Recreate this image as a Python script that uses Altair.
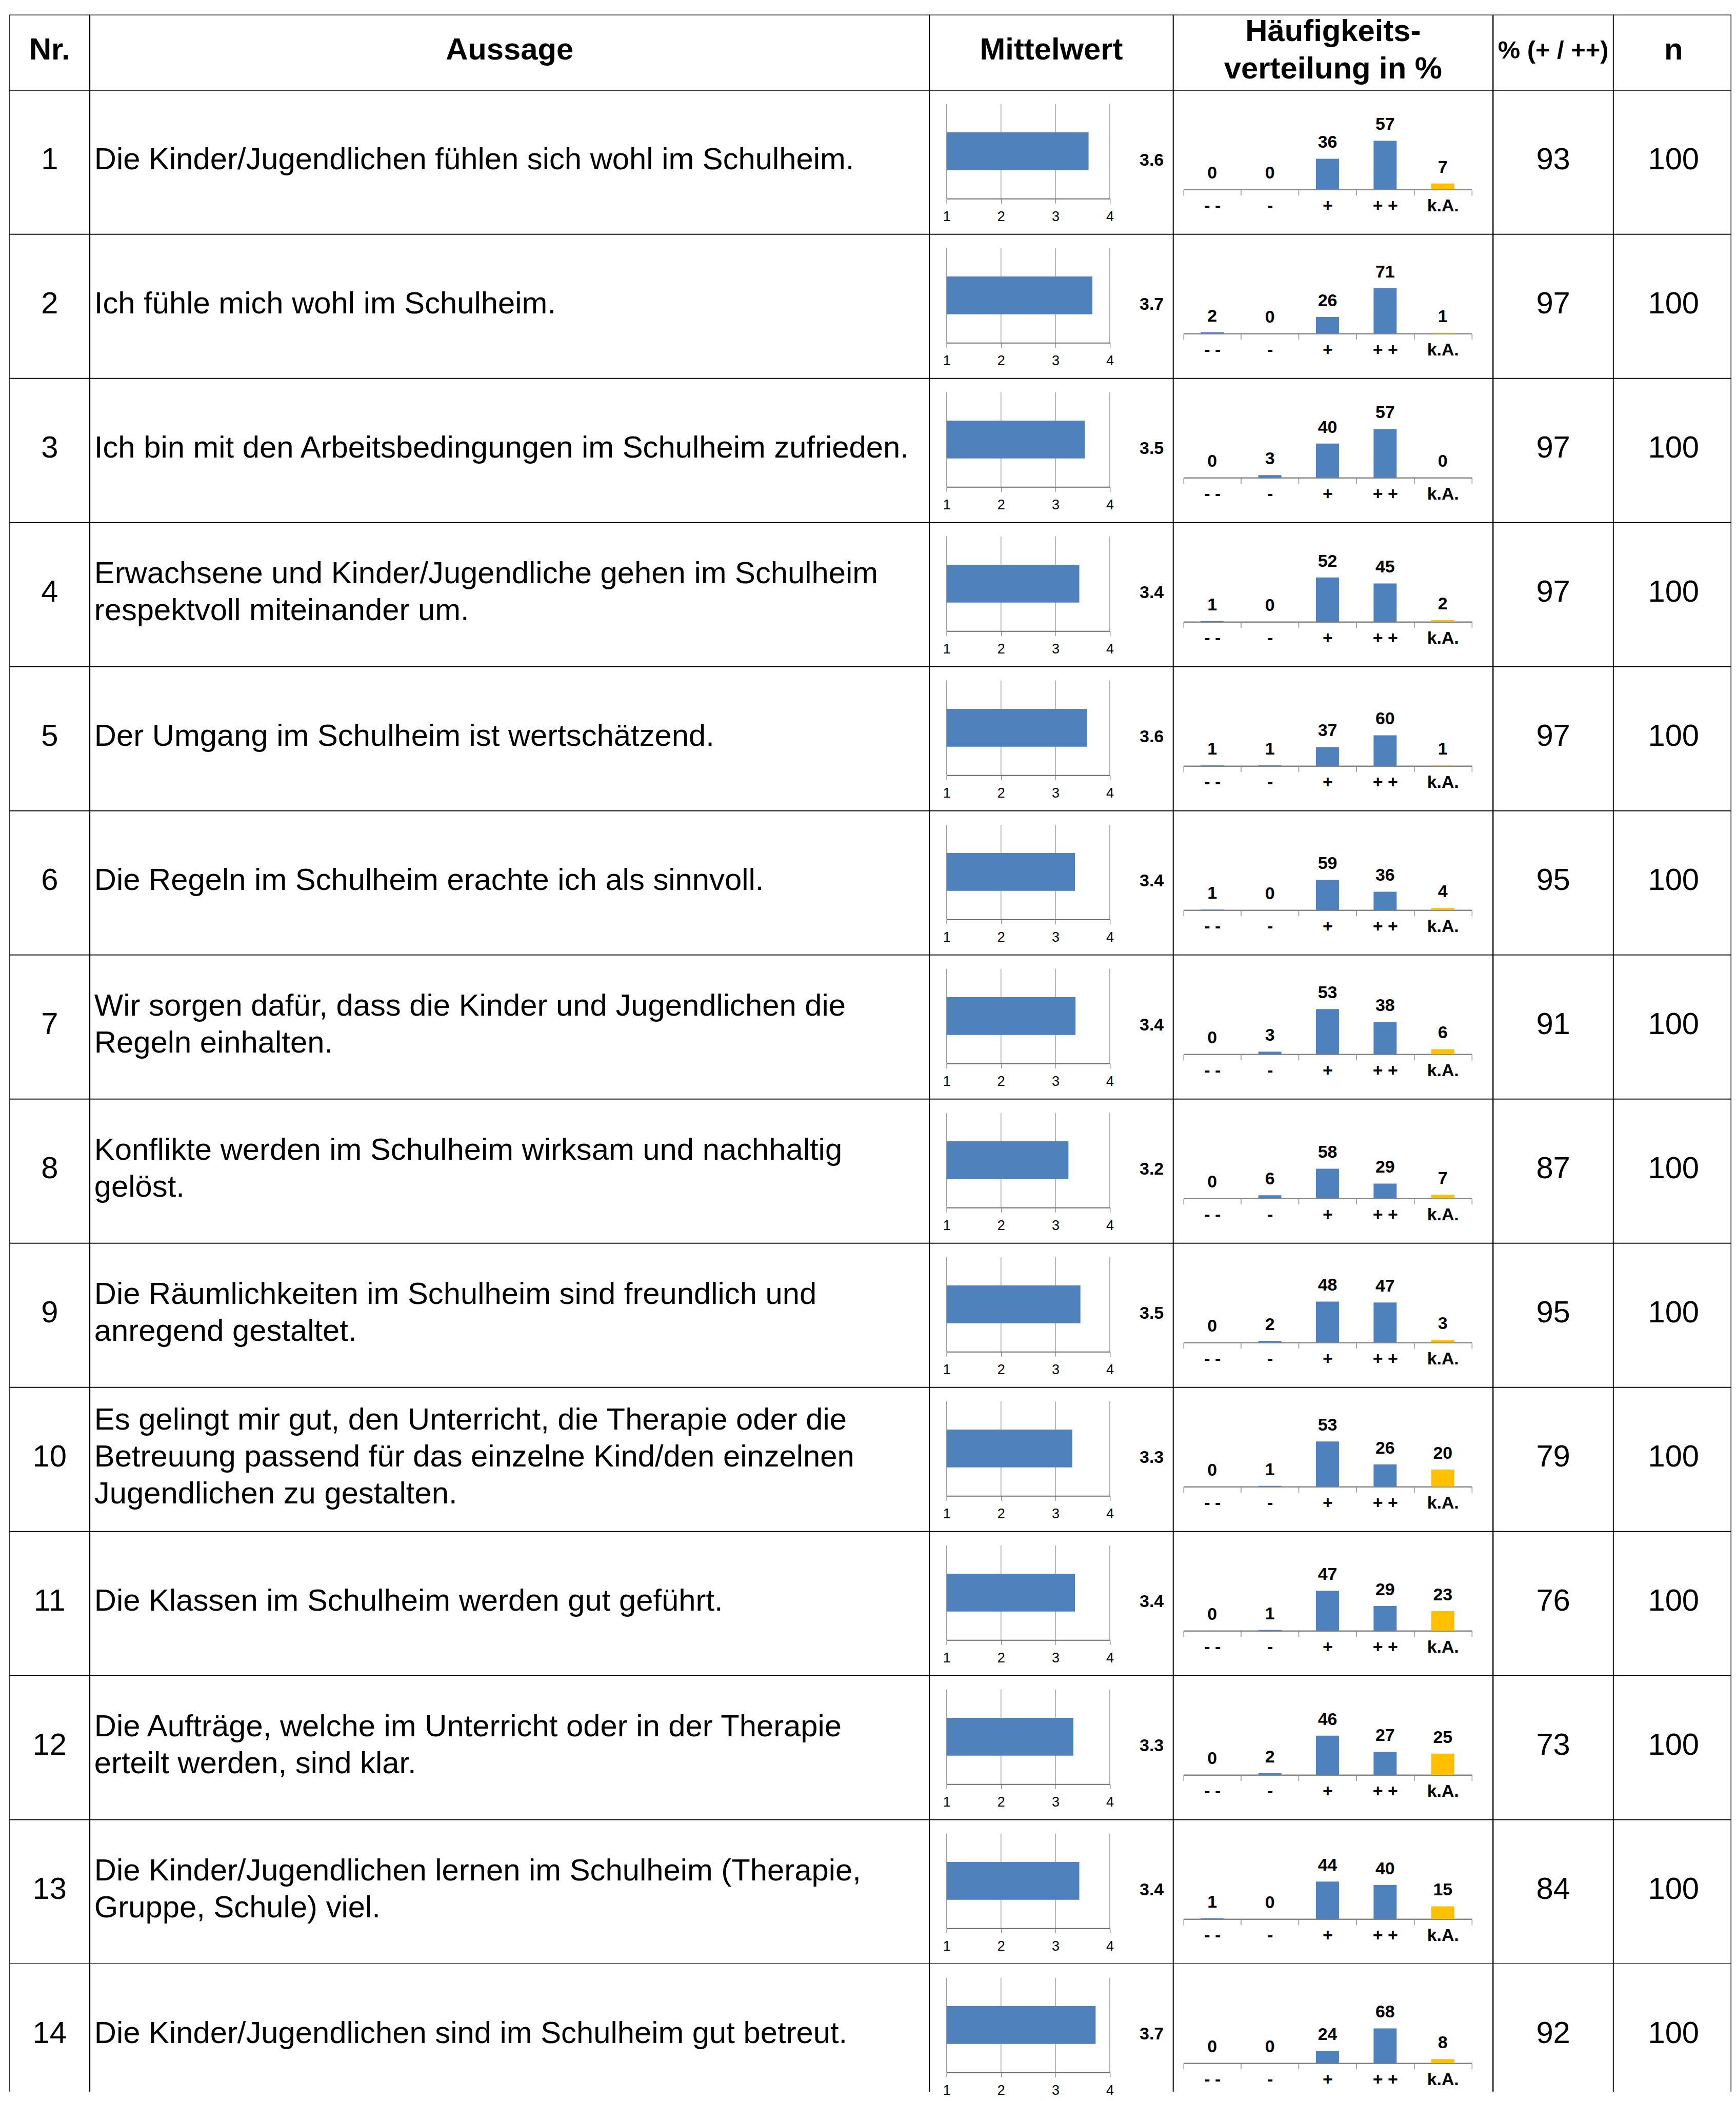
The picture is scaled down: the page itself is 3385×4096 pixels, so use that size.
import altair as alt
import pandas as pd

S = 0.939
FONT = "Liberation Sans"
BLUE = "#4F81BD"
YELLOW = "#FFC000"
GRAY = "#868686"

# ---------------- data ----------------
nrs = list(range(1, 15))
statements = [
    ["Die Kinder/Jugendlichen fühlen sich wohl im Schulheim."],
    ["Ich fühle mich wohl im Schulheim."],
    ["Ich bin mit den Arbeitsbedingungen im Schulheim zufrieden."],
    ["Erwachsene und Kinder/Jugendliche gehen im Schulheim", "respektvoll miteinander um."],
    ["Der Umgang im Schulheim ist wertschätzend."],
    ["Die Regeln im Schulheim erachte ich als sinnvoll."],
    ["Wir sorgen dafür, dass die Kinder und Jugendlichen die", "Regeln einhalten."],
    ["Konflikte werden im Schulheim wirksam und nachhaltig", "gelöst."],
    ["Die Räumlichkeiten im Schulheim sind freundlich und", "anregend gestaltet."],
    ["Es gelingt mir gut, den Unterricht, die Therapie oder die",
     "Betreuung passend für das einzelne Kind/den einzelnen",
     "Jugendlichen zu gestalten."],
    ["Die Klassen im Schulheim werden gut geführt."],
    ["Die Aufträge, welche im Unterricht oder in der Therapie", "erteilt werden, sind klar."],
    ["Die Kinder/Jugendlichen lernen im Schulheim (Therapie,", "Gruppe, Schule) viel."],
    ["Die Kinder/Jugendlichen sind im Schulheim gut betreut."],
]
means = [3.61, 3.68, 3.54, 3.44, 3.58, 3.36, 3.37, 3.24, 3.46, 3.31, 3.36, 3.33, 3.44, 3.74]
mean_ticks = [1, 2, 3, 4]

cats = ["- -", "-", "+", "+ +", "k.A."]
pct_mm = [0, 2, 0, 1, 1, 1, 0, 0, 0, 0, 0, 0, 1, 0]
pct_m = [0, 0, 3, 0, 1, 0, 3, 6, 2, 1, 1, 2, 0, 0]
pct_p = [36, 26, 40, 52, 37, 59, 53, 58, 48, 53, 47, 46, 44, 24]
pct_pp = [57, 71, 57, 45, 60, 36, 38, 29, 47, 26, 29, 27, 40, 68]
pct_ka = [7, 1, 0, 2, 1, 4, 6, 7, 3, 20, 23, 25, 15, 8]
axis_max = [60, 80, 60, 60, 100, 100, 60, 100, 60, 60, 60, 60, 60, 100]

share_pos = [93, 97, 97, 97, 97, 95, 91, 87, 95, 79, 76, 73, 84, 92]
n_vals = [100] * 14

headers = ["Nr.", "Aussage", "Mittelwert", ["Häufigkeits-", "verteilung in %"], "% (+ / ++)", "n"]

# ---------------- layout (output pixels) ----------------
W = [166.3 * S, 1749.2 * S, 507.5 * S, 665.8 * S, 250.0 * S, 245.2 * S]
H_HEAD = 156.5 * S
H_ROW = 300.0 * S
H_LAST = 250.0
TXT = 60
LINE = 76.5 * S


def text_layer(value, x, yc, align="center", bold=False, size=TXT, line_h=LINE):
    nlines = len(value) if isinstance(value, list) else 1
    y0 = yc - (nlines - 1) * line_h / 2
    df = pd.DataFrame({"t": [value]})
    return alt.Chart(df).mark_text(
        align=align, baseline="middle", font=FONT, fontSize=size, dy=-0.065 * size,
        fontWeight="bold" if bold else "normal", lineHeight=line_h, color="black"
    ).encode(x=alt.value(x), y=alt.value(y0), text="t:N")


def mean_layers(i, h):
    df = pd.DataFrame({"k": ["m"], "v": [means[i]]})
    xs = alt.Scale(domain=[1, 4], range=[35.5 * S, 375.5 * S], nice=False, zero=False)
    ys = alt.Scale(domain=["m"], range=[29 * S, 226 * S], paddingInner=0, paddingOuter=0)
    ax = alt.Axis(values=mean_ticks, offset=-(h - 226 * S), grid=False, title=None,
                  tickSize=10 * S, tickColor=GRAY, tickWidth=1.2,
                  domainColor="#6b6b6b", domainWidth=2,
                  labelPadding=(264 - 236) * S, labelBaseline="middle", labelFont=FONT,
                  labelFontSize=27, labelColor="black", labelFlush=False, labelOverlap=False)
    grid = alt.Chart(pd.DataFrame({"v": mean_ticks})).mark_rule(color=GRAY, strokeWidth=1.2).encode(
        x=alt.X("v:Q", scale=xs, axis=ax), y=alt.value(29 * S), y2=alt.value(226 * S))
    bar = alt.Chart(df).mark_bar(color=BLUE, height=alt.RelativeBandSize(0.4)).encode(
        x=alt.X("v:Q", scale=xs, axis=ax), x2=alt.datum(1),
        y=alt.Y("k:N", scale=ys, axis=None))
    lab = alt.Chart(df).mark_text(font=FONT, fontSize=34, fontWeight="bold", color="black",
                                  align="center", baseline="middle", dy=-2).encode(
        x=alt.value(462.8 * S), y=alt.value(149.3 * S), text=alt.Text("v:Q", format=".1f"))
    return [grid, bar, lab]


def dist_layers(i, h):
    df = pd.DataFrame({"cat": cats,
                       "val": [pct_mm[i], pct_m[i], pct_p[i], pct_pp[i], pct_ka[i]]})
    axis_y = 207 * S
    xs = alt.Scale(domain=cats, range=[21 * S, 621.5 * S], paddingInner=0, paddingOuter=0)
    ys = alt.Scale(domain=[0, axis_max[i]], range=[axis_y, axis_y - 106.7 * S], nice=False, zero=True)
    ax = alt.Axis(title=None, offset=-(h - axis_y), tickBand="extent", labelAngle=0,
                  tickSize=12 * S, tickColor=GRAY, tickWidth=1.5,
                  domainColor=GRAY, domainWidth=2.5, grid=False,
                  labelPadding=(36 - 12) * S - 2, labelBaseline="middle", labelFont=FONT,
                  labelFontWeight="bold", labelFontSize=34, labelColor="black",
                  labelOverlap=False)
    bars = alt.Chart(df).mark_bar(width=alt.RelativeBandSize(0.4)).encode(
        x=alt.X("cat:N", scale=xs, axis=ax),
        y=alt.Y("val:Q", scale=ys, axis=None),
        color=alt.Color("cat:N", scale=alt.Scale(domain=cats, range=[BLUE] * 4 + [YELLOW]), legend=None))
    labs = alt.Chart(df).mark_text(dy=-31 * S - 2, baseline="middle", align="center", font=FONT,
                                   fontWeight="bold", fontSize=34, color="black").encode(
        x=alt.X("cat:N", scale=xs, axis=ax),
        y=alt.Y("val:Q", scale=ys, axis=None),
        text="val:Q")
    return [bars, labs]


def cell(layers, w, h, last=False):
    if last:
        d = pd.DataFrame({"e": [0]})
        left = alt.Chart(d).mark_rule(color="black", strokeWidth=1.5).encode(
            x=alt.value(0), y=alt.value(0), y2=alt.value(h))
        right = alt.Chart(d).mark_rule(color="black", strokeWidth=1.5).encode(
            x=alt.value(w), y=alt.value(0), y2=alt.value(h))
        return alt.layer(*layers, left, right).properties(
            width=w, height=h, view=alt.ViewBackground(stroke="transparent"))
    return alt.layer(*layers).properties(width=w, height=h)


cells = []
hy = H_HEAD / 2
cells.append(cell([text_layer(headers[0], W[0] / 2, hy, bold=True)], W[0], H_HEAD))
cells.append(cell([text_layer(headers[1], W[1] / 2, hy, bold=True)], W[1], H_HEAD))
cells.append(cell([text_layer(headers[2], W[2] / 2, hy, bold=True)], W[2], H_HEAD))
cells.append(cell([text_layer(headers[3], W[3] / 2, hy, bold=True, line_h=78 * S)], W[3], H_HEAD))
cells.append(cell([text_layer(headers[4], W[4] / 2, hy, bold=True, size=49)], W[4], H_HEAD))
cells.append(cell([text_layer(headers[5], 125.5 * S, hy, bold=True)], W[5], H_HEAD))

ry = H_ROW / 2
for i in range(14):
    last = i == 13
    h = H_LAST if last else H_ROW
    stmt = statements[i][0] if len(statements[i]) == 1 else statements[i]
    cells += [
        cell([text_layer(str(nrs[i]), W[0] / 2, ry)], W[0], h, last),
        cell([text_layer(stmt, 9 * S, ry, align="left")], W[1], h, last),
        cell(mean_layers(i, h), W[2], h, last),
        cell(dist_layers(i, h), W[3], h, last),
        cell([text_layer(str(share_pos[i]), W[4] / 2, ry)], W[4], h, last),
        cell([text_layer(str(n_vals[i]), 125.5 * S, ry)], W[5], h, last),
    ]

chart = alt.concat(*cells, columns=6, spacing=0, bounds="flush").properties(
    padding={"left": 9, "top": 13, "right": 0, "bottom": 0}
).configure(
    font=FONT,
    view=alt.ViewConfig(stroke="black", strokeWidth=1.5),
)

chart.save("out.html", embed_options={"renderer": "svg", "actions": False})
